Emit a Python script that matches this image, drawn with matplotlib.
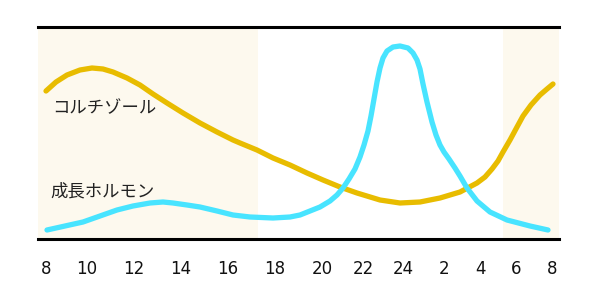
import matplotlib
matplotlib.use('Agg')
import matplotlib.pyplot as plt

# tick labels (hour of day) and where they sit along the axis
tick_labels = ['8', '10', '12', '14', '16', '18', '20', '22', '24', '2', '4', '6', '8']
tick_pos = [46, 87, 134, 181, 228, 275, 322, 363, 403, 444, 480, 516, 552]

# cortisol level
cort_x = [46, 56, 67, 80, 92, 103, 113, 127, 140, 153, 167, 183, 200, 217, 233,
          240, 257, 273, 290, 307, 323, 340, 357, 380, 400, 420, 440, 460, 477,
          485, 492, 498, 503, 510, 517, 523, 531, 540, 547, 553]
cort_y = [148, 157, 164, 169, 171, 170, 167, 161, 154, 145, 136, 126, 116, 107, 99,
          96, 89, 81, 74, 66, 59, 52, 46, 39, 36, 37, 41, 47, 56,
          62, 70, 78, 87, 99, 112, 123, 134, 144, 150, 155]

# growth hormone level
gh_x = [47, 65, 83, 100, 117, 133, 150, 163, 173, 187, 200, 217, 233, 250, 273,
        290, 300, 310, 320, 330, 337, 343, 349, 355, 360, 364, 368, 371, 374, 377,
        380, 383, 387, 393, 400, 408, 413, 417, 420, 423, 427, 432, 436, 440,
        444, 449, 455, 460, 467, 477, 490, 507, 530, 548]
gh_y = [9, 13, 17, 23, 29, 33, 36, 37, 36, 34, 32, 28, 24, 22, 21,
        22, 24, 28, 32, 38, 44, 51, 60, 70, 82, 94, 108, 123, 140, 157,
        171, 181, 188, 192, 193, 191, 186, 179, 170, 155, 137, 117, 104, 94,
        87, 80, 71, 63, 51, 38, 27, 19, 13, 9]

# shaded (daytime) spans
day_spans = [(38, 258), (503, 559)]

fig = plt.figure(figsize=(6, 3), dpi=100)
ax = fig.add_axes([38 / 600, 61 / 300, 521 / 600, 212 / 300])
ax.set_xlim(38, 559)
ax.set_ylim(0, 212)

for a, b in day_spans:
    ax.axvspan(a, b, color='#fdf9ee', zorder=0, lw=0)

ax.plot(cort_x, cort_y, color='#e8bc00', lw=3.8, solid_capstyle='round',
        solid_joinstyle='round', zorder=2)
ax.plot(gh_x, gh_y, color='#48e4ff', lw=3.8, solid_capstyle='round',
        solid_joinstyle='round', zorder=3)

jp = ['Noto Sans CJK JP', 'DejaVu Sans']
ax.text(52, 131, 'コルチゾール', family=jp, fontsize=12.5, ha='left', va='center', color='#222222')
ax.text(50, 48, '成長ホルモン', family=jp, fontsize=12.5, ha='left', va='center', color='#222222')

for s in ['left', 'right']:
    ax.spines[s].set_visible(False)
for s in ['top', 'bottom']:
    ax.spines[s].set_linewidth(2.2)
    ax.spines[s].set_color('black')

ax.set_yticks([])
ax.set_xticks(tick_pos)
ax.set_xticklabels(tick_labels, fontsize=12, color='#111111')
ax.tick_params(axis='x', length=0, pad=15)

fig.savefig('out.png', dpi=100)
